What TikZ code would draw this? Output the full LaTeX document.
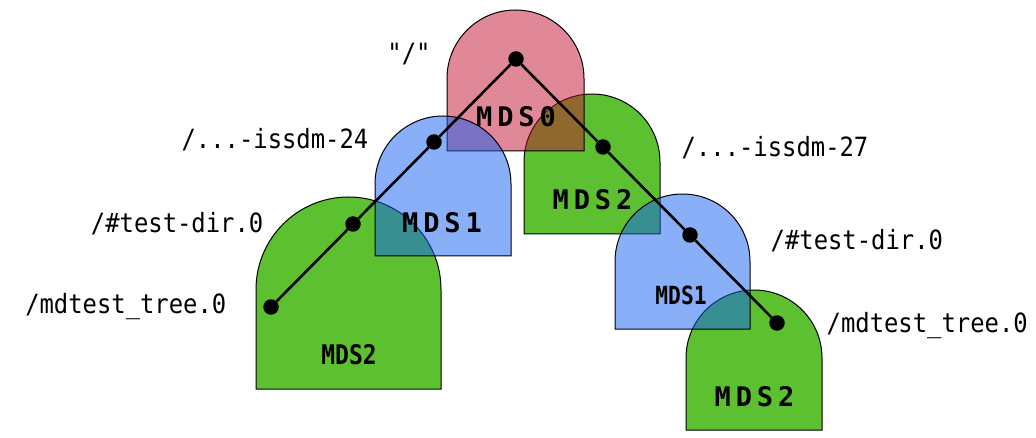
\documentclass[tikz,border=0pt]{standalone}
\usepackage{fontspec}
\newfontfamily\labelfont[FakeStretch=0.9]{DejaVu Sans Mono}
\newfontfamily\mdsfont[LetterSpace=18]{DejaVu Sans Mono}
\newfontfamily\mdsnarrow[FakeStretch=0.85]{DejaVu Sans Mono}
\definecolor{pinkbase}{RGB}{193,17,49}
\definecolor{bluebase}{RGB}{21,95,243}
\definecolor{greenfill}{RGB}{93,192,48}
\newcommand\tomb[5]{\path[#5] ({#1-#2},{-#4}) -- ({#1-#2},{-#3-#2}) arc[start angle=180,end angle=0,radius=#2] -- ({#1+#2},{-#4}) -- cycle;}
\tikzset{
  tombborder/.style={draw=black, line width=1pt},
  greenbox/.style={tombborder, fill=greenfill},
  pinkbox/.style={tombborder, fill=pinkbase, fill opacity=0.5},
  bluebox/.style={tombborder, fill=bluebase, fill opacity=0.5},
  dirdot/.style={circle, fill=black, inner sep=0pt, minimum size=15.5pt},
  treeedge/.style={line width=2.6pt},
  pathlabel/.style={font=\labelfont\fontsize{26.5}{29}\selectfont, inner sep=0pt},
  mdslabel/.style={font=\mdsfont\bfseries\fontsize{27}{30}\selectfont, inner sep=0pt},
  mdsnarrowlabel/.style={font=\mdsnarrow\bfseries\fontsize{27}{30}\selectfont, inner sep=0pt},
}
\begin{document}
\begin{tikzpicture}[x=1pt,y=1pt]
\useasboundingbox (0,0) rectangle (1036,-438);
% green servers
\tomb{348.5}{92.5}{197}{389}{greenbox}
\tomb{592}{68}{94}{234}{greenbox}
\tomb{754}{68}{290}{430}{greenbox}
% pink MDS0
\tomb{515.5}{68.5}{10}{151}{pinkbox}
% blue servers
\tomb{443}{68}{116}{256}{bluebox}
\tomb{682.5}{67.5}{194}{329}{bluebox}
% server names
\node[mdslabel] (n0) at (516,-117) {MDS0};
\node[mdslabel] (n1a) at (442,-222.5) {MDS1};
\node[mdslabel] (n2a) at (592.5,-200) {MDS2};
\node[mdslabel] (n2c) at (754.5,-396.5) {MDS2};
\node[mdsnarrowlabel] (n2b) at (349,-355) {MDS2};
\node[mdsnarrowlabel, font=\mdsnarrow\bfseries\fontsize{25}{28}\selectfont] (n1b) at (681,-295) {MDS1};
% directory dots
\node[dirdot] (root) at (516,-59) {};
\node[dirdot] (l1) at (434,-142) {};
\node[dirdot] (l2) at (353,-224) {};
\node[dirdot] (l3) at (271,-307) {};
\node[dirdot] (r1) at (603,-147) {};
\node[dirdot] (r2) at (690,-235) {};
\node[dirdot] (r3) at (777,-323) {};
\draw[treeedge] (root) -- (l1) -- (l2) -- (l3);
\draw[treeedge] (root) -- (r1) -- (r2) -- (r3);
% path labels
\node[pathlabel, anchor=base] (troot) at (409,-63) {"/"};
\node[pathlabel, anchor=base east] (tl1) at (368.5,-149) {/...-issdm-24};
\node[pathlabel, anchor=base east] (tl2) at (263.5,-233) {/\#test-dir.0};
\node[pathlabel, anchor=base east] (tl3) at (226.5,-314) {/mdtest\_tree.0};
\node[pathlabel, anchor=base west] (tr1) at (681.5,-157) {/...-issdm-27};
\node[pathlabel, anchor=base west] (tr2) at (770.5,-250) {/\#test-dir.0};
\node[pathlabel, anchor=base west] (tr3) at (826.5,-332) {/mdtest\_tree.0};
\end{tikzpicture}
\end{document}
